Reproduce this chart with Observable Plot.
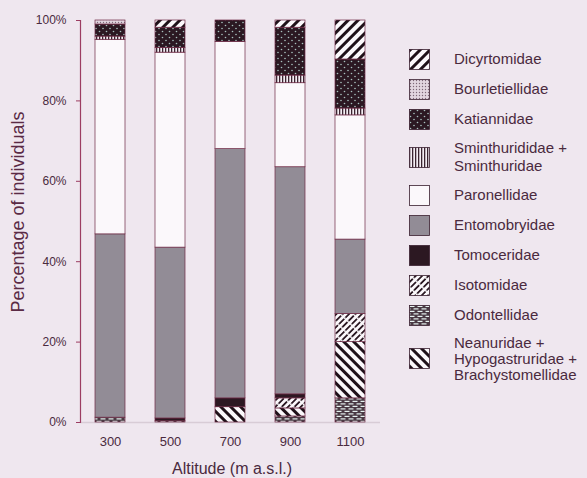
<!DOCTYPE html>
<html>
<head>
<meta charset="utf-8">
<script src="https://cdn.jsdelivr.net/npm/d3@7"></script>
<script src="https://cdn.jsdelivr.net/npm/@observablehq/plot@0.6"></script>
<style>
  html, body { margin: 0; padding: 0; background: #efe7ef; }
  #wrap { position: relative; width: 587px; height: 478px; overflow: hidden; background: #efe7ef;
          font-family: "Liberation Sans", Arial, sans-serif; color: #4a2a3e; }
  #ytitle { position: absolute; left: 18px; top: 212px; transform: translate(-50%, -50%) rotate(-90deg);
            white-space: nowrap; font-size: 18px; color: #5a2a45; }
  #xtitle { position: absolute; left: 232px; top: 469px; transform: translate(-50%, -50%);
            white-space: nowrap; font-size: 16px; }
  #legend { position: absolute; left: 409px; top: 44px; }
  .row { display: flex; align-items: center; padding: 4.5px 0; }
  .sw { width: 21px; height: 21px; flex: none; }
  .lab { margin-left: 24px; font-size: 15px; line-height: 16.5px; white-space: pre; }
  .lab.l2 { line-height: 18.5px; }
  .lab.l3 { line-height: 16px; }
</style>
</head>
<body>
<div id="wrap">
<svg width="0" height="0" style="position:absolute">
  <defs>
    <pattern id="p-dicy" patternUnits="userSpaceOnUse" width="7" height="7" patternTransform="rotate(45)">
      <rect width="7" height="7" fill="#fbf8fb"/><rect width="3" height="7" fill="#1f1119"/>
    </pattern>
    <pattern id="p-bour" patternUnits="userSpaceOnUse" width="3" height="3">
      <rect width="3" height="3" fill="#e2d6e0"/><circle cx="1.5" cy="1.5" r="0.7" fill="#7d6878"/>
    </pattern>
    <pattern id="p-kati" patternUnits="userSpaceOnUse" width="7" height="6">
      <rect width="7" height="6" fill="#2b1822"/><circle cx="1.5" cy="1.5" r="0.8" fill="#a8c2bf"/><circle cx="5" cy="4.5" r="0.8" fill="#a8c2bf"/>
    </pattern>
    <pattern id="p-smin" patternUnits="userSpaceOnUse" width="3" height="3">
      <rect width="3" height="3" fill="#f4eef4"/><rect width="1.3" height="3" fill="#3a2430"/>
    </pattern>
    <pattern id="p-paro" patternUnits="userSpaceOnUse" width="4" height="4">
      <rect width="4" height="4" fill="#fbf8fb"/>
    </pattern>
    <pattern id="p-ento" patternUnits="userSpaceOnUse" width="4" height="4">
      <rect width="4" height="4" fill="#928c96"/>
    </pattern>
    <pattern id="p-tomo" patternUnits="userSpaceOnUse" width="4" height="4">
      <rect width="4" height="4" fill="#2c1822"/>
    </pattern>
    <pattern id="p-isot" patternUnits="userSpaceOnUse" width="4.5" height="9" patternTransform="rotate(45)">
      <rect width="4.5" height="9" fill="#fbf8fb"/><rect width="1.8" height="7.5" fill="#2a1822"/>
    </pattern>
    <pattern id="p-odon" patternUnits="userSpaceOnUse" width="8" height="5">
      <rect width="8" height="5" fill="#4a3a44"/>
      <rect x="0.5" y="0.8" width="5" height="1.2" fill="#e6f2f0"/>
      <rect x="4.5" y="3.3" width="5" height="1.2" fill="#e6f2f0"/>
      <rect x="-3.5" y="3.3" width="5" height="1.2" fill="#e6f2f0"/>
    </pattern>
    <pattern id="p-nean" patternUnits="userSpaceOnUse" width="7" height="7" patternTransform="rotate(-45)">
      <rect width="7" height="7" fill="#fbf8fb"/><rect width="3" height="7" fill="#1f1119"/>
    </pattern>
  </defs>
</svg>
<div id="chart"></div>
<div id="ytitle">Percentage of individuals</div>
<div id="xtitle">Altitude (m a.s.l.)</div>
<div id="legend"></div>
</div>
<script>
// ---- data ----
const altitudes = ["300", "500", "700", "900", "1100"];
const yTicks = [0, 20, 40, 60, 80, 100];

// stack order, bottom to top
const stackFamilies = [
  "Odontellidae",
  "Neanuridae + Hypogastruridae + Brachystomellidae",
  "Isotomidae",
  "Tomoceridae",
  "Entomobryidae",
  "Paronellidae",
  "Sminthurididae + Sminthuridae",
  "Katiannidae",
  "Bourletiellidae",
  "Dicyrtomidae"
];

// percentage per altitude (300, 500, 700, 900, 1100)
const odontellidae    = [1.2, 0.3, 0.0, 1.5, 6.0];
const neanuridae      = [0.0, 0.0, 3.8, 2.0, 14.0];
const isotomidae      = [0.0, 0.0, 0.0, 2.5, 7.0];
const tomoceridae     = [0.0, 0.7, 2.2, 1.0, 0.0];
const entomobryidae   = [45.6, 42.5, 62.0, 56.5, 18.5];
const paronellidae    = [48.4, 48.5, 26.7, 20.9, 30.9];
const sminthuridae    = [0.8, 1.2, 0.0, 1.9, 1.7];
const katiannidae     = [3.0, 5.0, 5.3, 11.9, 12.2];
const bourletiellidae = [1.0, 0.0, 0.0, 0.0, 0.0];
const dicyrtomidae    = [0.0, 1.8, 0.0, 1.8, 9.7];

const seriesValues = [odontellidae, neanuridae, isotomidae, tomoceridae, entomobryidae,
  paronellidae, sminthuridae, katiannidae, bourletiellidae, dicyrtomidae];

// legend, top to bottom
const legendFamilies = [
  "Dicyrtomidae", "Bourletiellidae", "Katiannidae", "Sminthurididae + Sminthuridae",
  "Paronellidae", "Entomobryidae", "Tomoceridae", "Isotomidae", "Odontellidae",
  "Neanuridae + Hypogastruridae + Brachystomellidae"
];
const legendLabels = [
  "Dicyrtomidae", "Bourletiellidae", "Katiannidae", "Sminthurididae +\nSminthuridae",
  "Paronellidae", "Entomobryidae", "Tomoceridae", "Isotomidae", "Odontellidae",
  "Neanuridae +\nHypogastruridae +\nBrachystomellidae"
];
const patternIds = ["p-odon", "p-nean", "p-isot", "p-tomo", "p-ento", "p-paro", "p-smin", "p-kati", "p-bour", "p-dicy"];

// ---- build ----
const records = [];
stackFamilies.forEach((f, i) => {
  altitudes.forEach((a, j) => {
    records.push({alt: a, family: f, value: seriesValues[i][j]});
  });
});

const textColor = "#4a2a3e";
const axisColor = "#9c3d62";

const chart = Plot.plot({
  width: 587,
  height: 478,
  marginLeft: 80,
  marginRight: 207,
  marginTop: 20,
  marginBottom: 56,
  style: {background: "transparent", fontFamily: "'Liberation Sans', Arial, sans-serif", color: textColor},
  x: {domain: altitudes, paddingInner: 0.5, paddingOuter: 0.25, label: null},
  y: {domain: [0, 100], label: null},
  color: {domain: stackFamilies, range: patternIds.map(id => `url(#${id})`)},
  marks: [
    Plot.ruleY([0], {stroke: "#d8ccd6", strokeWidth: 1.5}),
    Plot.barY(records.filter(d => d.value > 0), {
      x: "alt", y: "value", fill: "family", z: "family", order: stackFamilies,
      stroke: "#6e2a45", strokeWidth: 0.7
    }),
    Plot.axisX({tickSize: 0, tickPadding: 14, fontSize: 13, fill: textColor, label: null}),
    Plot.axisY({ticks: yTicks, tickFormat: d => d + "%", tickSize: 4, tickPadding: 10,
      fontSize: 12, stroke: axisColor, fill: textColor, label: null}),
    Plot.frame({anchor: "left", stroke: axisColor, strokeWidth: 1.2})
  ]
});
document.getElementById("chart").appendChild(chart);

const legend = document.getElementById("legend");
legendFamilies.forEach((f, i) => {
  const row = document.createElement("div");
  row.className = "row";
  const id = patternIds[stackFamilies.indexOf(f)];
  row.innerHTML = `<svg class="sw" width="21" height="21"><rect x="0.5" y="0.5" width="20" height="20" fill="url(#${id})" stroke="#3a2030" stroke-width="0.8"/></svg><span class="lab"></span>`;
  const lab = row.querySelector(".lab");
  lab.textContent = legendLabels[i];
  const nLines = legendLabels[i].split("\n").length;
  if (nLines === 2) lab.classList.add("l2");
  if (nLines === 3) lab.classList.add("l3");
  legend.appendChild(row);
});
</script>
</body>
</html>
